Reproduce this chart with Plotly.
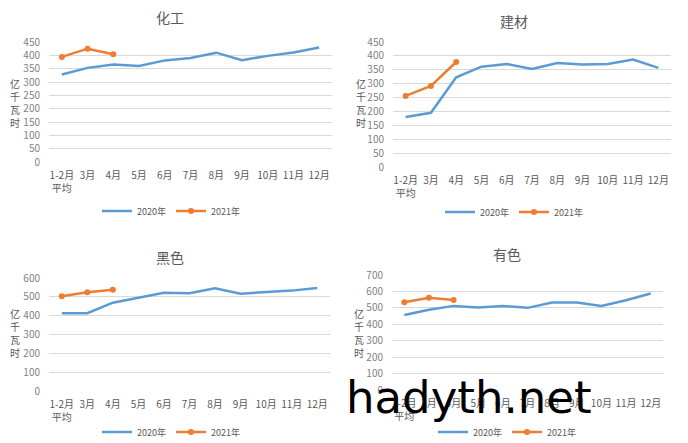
import plotly.graph_objects as go

W, H = 688, 443
OFF = 8  # page body margin of the html page

categories = ["1-2月平均", "3月", "4月", "5月", "6月", "7月", "8月", "9月", "10月", "11月", "12月"]
tick_labels = ["1-2月<br>平均", "3月", "4月", "5月", "6月", "7月", "8月", "9月", "10月", "11月", "12月"]

titles = ["化工", "建材", "黑色", "有色"]
series_names = ["2020年", "2021年"]

chem_2020 = [328, 353, 366, 360, 381, 390, 410, 382, 398, 411, 429]
chem_2021 = [394, 425, 404]
build_2020 = [180, 195, 323, 361, 371, 353, 374, 369, 371, 387, 357]
build_2021 = [256, 292, 378]
ferrous_2020 = [413, 413, 469, 494, 522, 519, 545, 517, 527, 533, 547]
ferrous_2021 = [503, 524, 538]
nonferrous_2020 = [456, 488, 512, 502, 512, 500, 532, 532, 512, 546, 587]
nonferrous_2021 = [534, 562, 548]

y_ranges = [[0, 450], [0, 450], [0, 600], [0, 700]]
y_dticks = [50, 50, 100, 100]


def fx(px):
    return (px - OFF) / W


def fy(py):
    return 1 - (py - OFF) / H


boxes = [(49, 332, 42, 162), (393, 671, 42, 167), (49, 330, 278, 391), (392, 663, 275, 390)]
title_pos = [(170, 17), (514, 21), (170, 257), (507, 254)]
ytitle_pos = [(15, 103), (361, 103), (15, 333), (359, 333)]
legend_pos = [(171, 211), (514, 212), (171, 432), (507, 432)]

data = [(chem_2020, chem_2021), (build_2020, build_2021),
        (ferrous_2020, ferrous_2021), (nonferrous_2020, nonferrous_2021)]

BLUE = "#5b9bd5"
ORANGE = "#ed7d31"
GRAY = "#595959"
FONT = "Noto Sans CJK SC"

fig = go.Figure()
layout = dict(
    width=W, height=H, margin=dict(l=0, r=0, t=0, b=0),
    paper_bgcolor="white", plot_bgcolor="white",
    font=dict(family=FONT, color=GRAY, size=10),
    showlegend=True,
)
annotations = []

for i, ((a, b), (l, r, t, bt)) in enumerate(zip(data, boxes)):
    n = i + 1
    xa = "x" if n == 1 else f"x{n}"
    ya = "y" if n == 1 else f"y{n}"
    lg = "legend" if n == 1 else f"legend{n}"
    fig.add_trace(go.Scatter(x=categories, y=a, mode="lines", name=series_names[0],
                             line=dict(color=BLUE, width=2.5), xaxis=xa, yaxis=ya, legend=lg))
    fig.add_trace(go.Scatter(x=categories[:len(b)], y=b, mode="lines+markers", name=series_names[1],
                             line=dict(color=ORANGE, width=2.5),
                             marker=dict(color=ORANGE, size=6, symbol="circle"),
                             xaxis=xa, yaxis=ya, legend=lg))
    xkey = "xaxis" if n == 1 else f"xaxis{n}"
    ykey = "yaxis" if n == 1 else f"yaxis{n}"
    layout[xkey] = dict(
        domain=[fx(l), fx(r)], anchor=ya, type="category",
        range=[-0.5, len(categories) - 0.5],
        tickvals=categories, ticktext=tick_labels,
        showgrid=False, showline=False, zeroline=False, automargin=False,
        ticks="outside", ticklen=4, tickcolor="rgba(0,0,0,0)",
        tickfont=dict(size=10, color=GRAY, family=FONT), fixedrange=True,
    )
    layout[ykey] = dict(
        domain=[fy(bt), fy(t)], anchor=xa,
        range=y_ranges[i], dtick=y_dticks[i], tick0=0,
        showgrid=True, gridcolor="#d9d9d9", gridwidth=1, automargin=False,
        zeroline=False, showline=False,
        ticks="outside", ticklen=6, tickcolor="rgba(0,0,0,0)",
        tickfont=dict(size=10, color="#7f7f7f", family=FONT), fixedrange=True,
    )
    lx, ly = legend_pos[i]
    layout[lg] = dict(
        orientation="h", x=fx(lx), y=fy(ly), xanchor="center", yanchor="middle",
        font=dict(size=9, color=GRAY, family=FONT), bgcolor="rgba(0,0,0,0)",
        itemwidth=30, tracegroupgap=0,
    )
    tx, ty = title_pos[i]
    annotations.append(dict(text=titles[i], x=fx(tx), y=fy(ty), xref="paper", yref="paper",
                            showarrow=False, xanchor="center", yanchor="middle",
                            font=dict(size=14, color=GRAY, family=FONT)))
    yx, yy = ytitle_pos[i]
    annotations.append(dict(text="亿<br>千<br>瓦<br>时", x=fx(yx), y=fy(yy), xref="paper", yref="paper",
                            showarrow=False, xanchor="center", yanchor="middle",
                            font=dict(size=10, color=GRAY, family=FONT)))

annotations.append(dict(text="hadyth.net", x=fx(344), y=fy(397), xref="paper", yref="paper",
                        showarrow=False, xanchor="left", yanchor="middle",
                        font=dict(size=45, color="black", family="DejaVu Sans")))

layout["annotations"] = annotations
fig.update_layout(**layout)
fig.write_html("out.html")
